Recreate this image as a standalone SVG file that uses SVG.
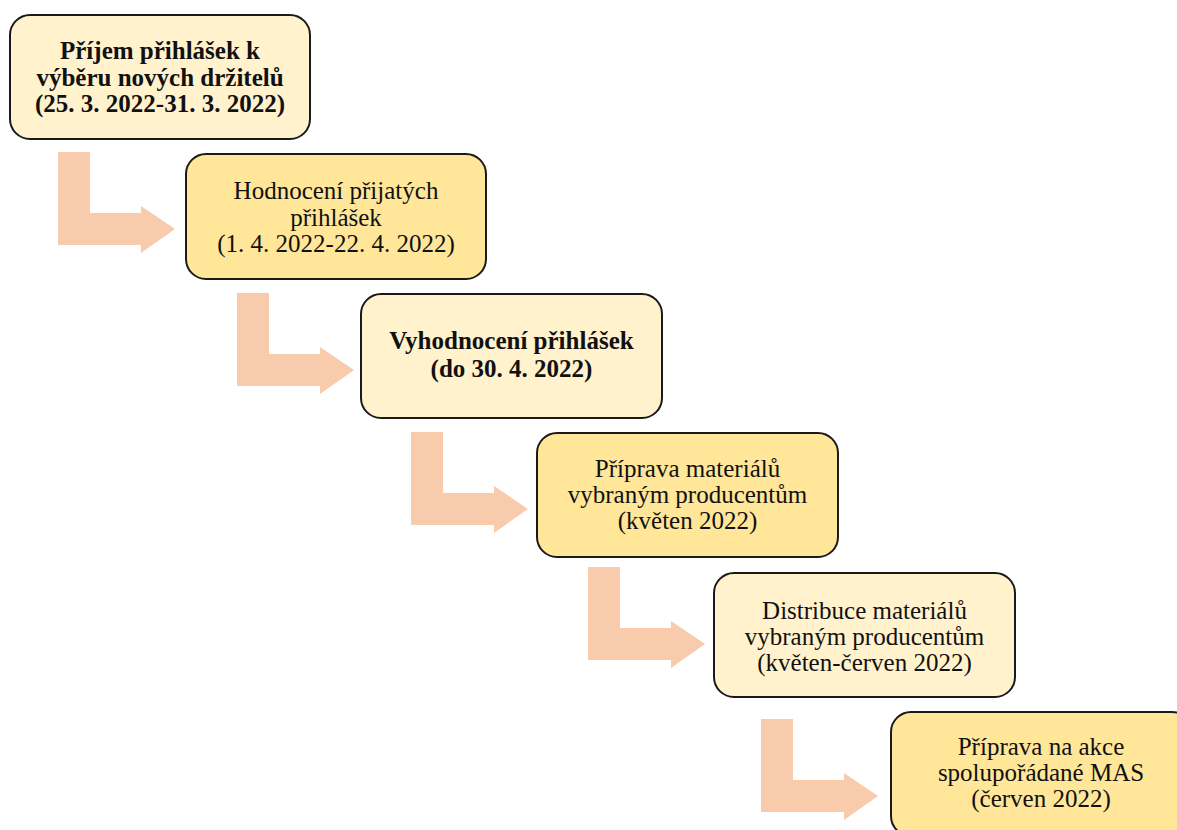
<svg xmlns="http://www.w3.org/2000/svg" width="1177" height="830" viewBox="0 0 1177 830">
  <style>
    .box { stroke: #1a1a1a; stroke-width: 2; }
    .light { fill: #FFF2CC; }
    .dark { fill: #FFE699; }
    .arrow { fill: #F8CBAD; }
    text { font-family: "Liberation Serif", "Times New Roman", serif; font-size: 25px; fill: #111111; text-anchor: middle; }
    .b { font-weight: bold; }
  </style>
  <defs>
    <path id="lArrow" d="M0,0 H32 V61 H83 V54 L117,77 L83,101 V93 H0 Z"/>
  </defs>
  <rect width="1177" height="830" fill="#ffffff"/>
  <g id="connectors">
    <use href="#lArrow" class="arrow" x="58" y="152"/>
    <use href="#lArrow" class="arrow" x="237" y="293"/>
    <use href="#lArrow" class="arrow" x="411" y="432"/>
    <use href="#lArrow" class="arrow" x="588" y="567"/>
    <use href="#lArrow" class="arrow" x="761" y="719"/>
  </g>
  <g id="node1">
    <rect class="box light" x="10" y="15" width="300" height="124" rx="20"/>
    <text class="b" x="160" y="59">Příjem přihlášek k</text>
    <text class="b" x="160" y="86">výběru nových držitelů</text>
    <text class="b" x="160" y="112">(25. 3. 2022-31. 3. 2022)</text>
  </g>
  <g id="node2">
    <rect class="box dark" x="186" y="154" width="300" height="125" rx="20"/>
    <text x="336" y="199">Hodnocení přijatých</text>
    <text x="336" y="226">přihlášek</text>
    <text x="336" y="252">(1. 4. 2022-22. 4. 2022)</text>
  </g>
  <g id="node3">
    <rect class="box light" x="361" y="294" width="301" height="124" rx="20"/>
    <text class="b" x="511.5" y="349">Vyhodnocení přihlášek</text>
    <text class="b" x="511.5" y="377">(do 30. 4. 2022)</text>
  </g>
  <g id="node4">
    <rect class="box dark" x="537" y="433" width="301" height="124" rx="20"/>
    <text x="687.5" y="477">Příprava materiálů</text>
    <text x="687.5" y="503">vybraným producentům</text>
    <text x="687.5" y="529">(květen 2022)</text>
  </g>
  <g id="node5">
    <rect class="box light" x="714" y="573" width="301" height="124" rx="20"/>
    <text x="864.5" y="619">Distribuce materiálů</text>
    <text x="864.5" y="645">vybraným producentům</text>
    <text x="864.5" y="671">(květen-červen 2022)</text>
  </g>
  <g id="node6">
    <rect class="box dark" x="891" y="712" width="301" height="124" rx="20"/>
    <text x="1041" y="755">Příprava na akce</text>
    <text x="1041" y="781">spolupořádané MAS</text>
    <text x="1041" y="807">(červen 2022)</text>
  </g>
</svg>
